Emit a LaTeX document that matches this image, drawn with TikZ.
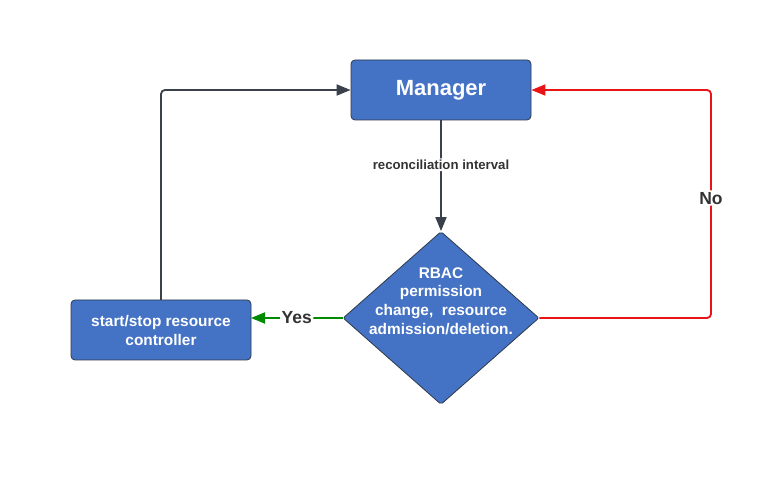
\documentclass[tikz,border=0pt]{standalone}
\usepackage{fontspec}
\setmainfont{Liberation Sans}
\usetikzlibrary{arrows.meta,shapes.geometric}
\definecolor{boxblue}{HTML}{4472C4}
\definecolor{boxline}{HTML}{2E3A4A}
\definecolor{edgegray}{HTML}{3A414A}
\definecolor{edgered}{HTML}{E81416}
\definecolor{edgegreen}{HTML}{008A00}
\definecolor{labgray}{HTML}{333333}
\tikzset{
  procbox/.style={draw=boxline, fill=boxblue, line width=0.8pt, rounded corners=4pt,
    minimum width=180pt, minimum height=60pt, inner sep=0pt, text=white, font=\bfseries, align=center},
  decision/.style={draw=boxline, fill=boxblue, line width=0.8pt, diamond, rounded corners=2pt,
    minimum width=196pt, minimum height=173pt, inner sep=0pt, aspect=1.133},
  dtext/.style={text=white, font=\fontsize{15.4}{18.7}\selectfont\bfseries, align=center, inner sep=0pt},
  conn/.style={line width=1.8pt, rounded corners=4pt, -{Triangle[length=14pt,width=11pt]}},
  elabel/.style={fill=white, text=labgray, font=\bfseries, inner sep=1.5pt}
}
\begin{document}
\begin{tikzpicture}[x=1pt,y=-1pt]
\useasboundingbox (0,0) rectangle (766,502);
\node[procbox, font=\fontsize{22}{25}\selectfont\bfseries] (mgr) at (441,90) {Manager};
\node[decision] (dec) at (441,318) {};
\node[dtext] (dectext) at (441,301) {RBAC\\permission\\change,\ \ resource\\admission/deletion.};
\node[procbox, font=\fontsize{15.4}{19}\selectfont\bfseries] (ctl) at (161,330) {start/stop resource\\controller};
\coordinate (rc1) at (711,318);
\coordinate (rc2) at (711,90);
\coordinate (gc1) at (161,90);
\coordinate (ctltop) at (161,300);
\coordinate (ctlin) at (251,318);
\draw[conn, edgegray] (mgr.south) -- node[elabel, font=\fontsize{13.2}{15}\selectfont\bfseries, pos=0.4] {reconciliation interval} (dec.north);
\draw[conn, edgered] (dec.east) -- (rc1) -- node[elabel, font=\fontsize{17.5}{19}\selectfont\bfseries, pos=0.526] {No} (rc2) -- (mgr.east);
\draw[conn, edgegreen] (dec.west) -- node[elabel, font=\fontsize{17.5}{19}\selectfont\bfseries, pos=0.5] {Yes} (ctlin);
\draw[conn, edgegray] (ctltop) -- (gc1) -- (mgr.west);
\end{tikzpicture}
\end{document}
